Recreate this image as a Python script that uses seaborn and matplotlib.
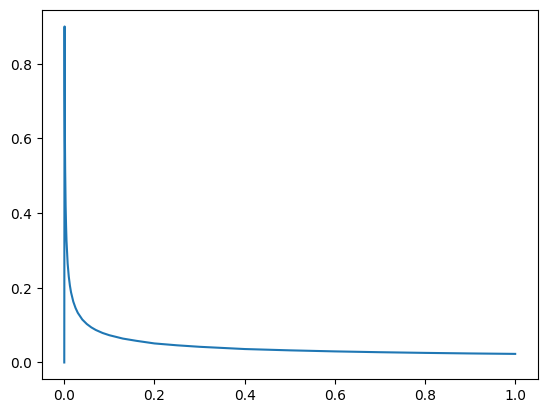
import matplotlib
matplotlib.use('Agg')
import matplotlib.pyplot as plt
import seaborn as sns
import pandas as pd

# --- Data ---
x_vals = [0.0, 0.0007, 0.001, 0.0015, 0.002, 0.003, 0.004, 0.005, 0.0075, 0.01,
          0.0125, 0.015, 0.02, 0.025, 0.03, 0.04, 0.05, 0.06, 0.07, 0.085, 0.1,
          0.13, 0.16, 0.2, 0.25, 0.3, 0.4, 0.5, 0.6, 0.7, 0.8, 0.9, 1.0]
y_vals = [0.0, 0.90, 0.73, 0.595, 0.515, 0.42, 0.365, 0.325, 0.265, 0.23,
          0.206, 0.188, 0.163, 0.146, 0.133, 0.115, 0.103, 0.094, 0.087, 0.079, 0.073,
          0.064, 0.058, 0.051, 0.046, 0.042, 0.036, 0.0325, 0.0297, 0.0275, 0.0257, 0.0242, 0.023]

df = pd.DataFrame({'x': x_vals, 'y': y_vals})

fig, ax = plt.subplots(figsize=(6.4, 4.8), dpi=100)
sns.lineplot(data=df, x='x', y='y', ax=ax, color='#1f77b4', linewidth=1.5, sort=False)
ax.set_xlabel('')
ax.set_ylabel('')

plt.savefig('out.png', dpi=100, bbox_inches='tight')
plt.close()
